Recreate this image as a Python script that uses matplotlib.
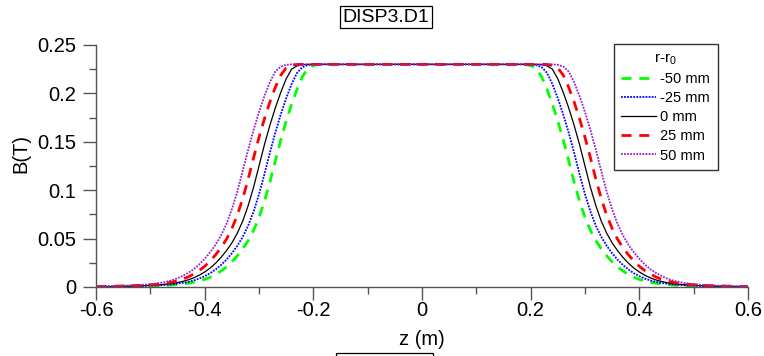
import numpy as np
import matplotlib
matplotlib.use("Agg")
import matplotlib.pyplot as plt
from matplotlib.ticker import MultipleLocator
from matplotlib.patches import Rectangle

plt.rcParams['font.family'] = ['Liberation Sans', 'DejaVu Sans']

# Half profile (z >= 0); the field map is symmetric about z = 0
z_half = [0.00, 0.10, 0.18, 0.19, 0.20, 0.21, 0.22, 0.23, 0.24, 0.25, 0.26, 0.27,
          0.28, 0.29, 0.30, 0.31, 0.32, 0.33, 0.34, 0.35, 0.36, 0.37, 0.38, 0.39,
          0.40, 0.41, 0.42, 0.43, 0.44, 0.45, 0.46, 0.47, 0.48, 0.49, 0.50, 0.52,
          0.54, 0.57, 0.60]

b_m50 = [0.2300, 0.2300, 0.2300, 0.2298, 0.2288, 0.2258, 0.2174, 0.2044, 0.1888, 0.1713,
         0.1518, 0.1303, 0.1083, 0.0886, 0.0718, 0.0585, 0.0479, 0.0394, 0.0322, 0.0259,
         0.0207, 0.0165, 0.0130, 0.0101, 0.0079, 0.0062, 0.0049, 0.0039, 0.0032, 0.0026,
         0.0022, 0.0018, 0.0015, 0.0013, 0.0010, 0.0008, 0.0006, 0.0004, 0.0002]

b_m25 = [0.2300, 0.2300, 0.2300, 0.2300, 0.2299, 0.2293, 0.2272, 0.2212, 0.2097, 0.1949,
         0.1782, 0.1594, 0.1386, 0.1166, 0.0958, 0.0779, 0.0633, 0.0517, 0.0425, 0.0348,
         0.0282, 0.0226, 0.0180, 0.0142, 0.0112, 0.0087, 0.0068, 0.0053, 0.0043, 0.0034,
         0.0028, 0.0023, 0.0019, 0.0016, 0.0014, 0.0010, 0.0007, 0.0005, 0.0002]

b_0 = [0.2300, 0.2300, 0.2300, 0.2300, 0.2300, 0.2300, 0.2298, 0.2285, 0.2250, 0.2150,
       0.2010, 0.1850, 0.1670, 0.1470, 0.1250, 0.1030, 0.0840, 0.0680, 0.0555, 0.0455,
       0.0375, 0.0305, 0.0245, 0.0195, 0.0155, 0.0122, 0.0095, 0.0074, 0.0058, 0.0046,
       0.0037, 0.0030, 0.0025, 0.0021, 0.0017, 0.0012, 0.0008, 0.0005, 0.0003]

b_p25 = [0.2300, 0.2300, 0.2300, 0.2300, 0.2300, 0.2300, 0.2300, 0.2299, 0.2290, 0.2263,
         0.2188, 0.2063, 0.1911, 0.1738, 0.1546, 0.1334, 0.1114, 0.0912, 0.0741, 0.0603,
         0.0493, 0.0405, 0.0332, 0.0268, 0.0214, 0.0170, 0.0135, 0.0105, 0.0082, 0.0064,
         0.0051, 0.0040, 0.0033, 0.0027, 0.0023, 0.0016, 0.0012, 0.0008, 0.0004]

b_p50 = [0.2300, 0.2300, 0.2300, 0.2300, 0.2300, 0.2300, 0.2300, 0.2300, 0.2300, 0.2295,
         0.2277, 0.2226, 0.2116, 0.1972, 0.1807, 0.1622, 0.1417, 0.1197, 0.0984, 0.0802,
         0.0650, 0.0531, 0.0436, 0.0358, 0.0291, 0.0233, 0.0185, 0.0147, 0.0116, 0.0090,
         0.0070, 0.0055, 0.0044, 0.0035, 0.0029, 0.0021, 0.0016, 0.0010, 0.0005]

labels = ["-50 mm", "-25 mm", "0 mm", "25 mm", "50 mm"]
x_ticks = [-0.6, -0.4, -0.2, 0, 0.2, 0.4, 0.6]
x_ticklabels = ["-0.6", "-0.4", "-0.2", "0", "0.2", "0.4", "0.6"]
y_ticks = [0, 0.05, 0.1, 0.15, 0.2, 0.25]
y_ticklabels = ["0", "0.05", "0.1", "0.15", "0.2", "0.25"]


def full(half):
    h = np.asarray(half, dtype=float)
    return np.concatenate([h[::-1], h[1:]])


zh = np.asarray(z_half, dtype=float)
z = np.concatenate([-zh[::-1], zh[1:]])

fig = plt.figure(figsize=(7.64, 3.56), dpi=100)
ax = fig.add_axes([96 / 764, 69 / 356, 652 / 764, 242 / 356])

styles = [
    dict(color='#00ff00', lw=2.0, linestyle=(0, (3.6, 2.8))),
    dict(color='#0000ff', lw=1.3, linestyle=(0, (1, 0.7))),
    dict(color='#000000', lw=0.9, linestyle='-'),
    dict(color='#ff0000', lw=2.0, linestyle=(0, (3.6, 2.8))),
    dict(color='#9a1fd0', lw=1.3, linestyle=(0, (1, 0.7))),
]
for vals, lab, st in zip([b_m50, b_m25, b_0, b_p25, b_p50], labels, styles):
    ax.plot(z, full(vals), label=lab, **st)

ax.set_xlim(-0.6, 0.6)
ax.set_ylim(0, 0.25)
ax.spines['top'].set_visible(False)
ax.spines['right'].set_visible(False)
for s in ['left', 'bottom']:
    ax.spines[s].set_color('#555555')
    ax.spines[s].set_linewidth(1.0)

ax.set_xticks(x_ticks)
ax.set_xticklabels(x_ticklabels)
ax.set_yticks(y_ticks)
ax.set_yticklabels(y_ticklabels)
ax.xaxis.set_minor_locator(MultipleLocator(0.1))
ax.yaxis.set_minor_locator(MultipleLocator(0.025))
ax.tick_params(which='major', direction='out', length=9.4, width=1.0, color='#555555',
               labelsize=14.5)
ax.tick_params(which='minor', direction='out', length=5, width=1.0, color='#555555')
ax.tick_params(axis='y', which='major', pad=5)
ax.tick_params(axis='x', which='major', pad=1)

ax.set_xlabel('z (m)', fontsize=14.5, labelpad=7)
ax.set_ylabel('B(T)', fontsize=14.5)
ax.yaxis.set_label_coords(-0.1, 0.55)

leg = ax.legend(loc='upper left', bbox_to_anchor=(0.794, 1.004), borderaxespad=0,
                fontsize=10.5, title='r-r$_{\\mathregular{0}}$', title_fontsize=11,
                frameon=True, fancybox=False, edgecolor='black', handlelength=2.4,
                handletextpad=0.3, labelspacing=0.35, borderpad=0.5)
leg.get_frame().set_linewidth(1.0)

fig.text(386 / 764, 339 / 356, 'DISP3.D1', fontsize=14, ha='center', va='center',
         bbox=dict(boxstyle='square,pad=0.15', facecolor='white', edgecolor='black', lw=0.9))

fig.patches.append(Rectangle((336 / 764, -0.02), 97 / 764, 3 / 356 + 0.02,
                             transform=fig.transFigure, facecolor='none',
                             edgecolor='black', lw=0.9))

fig.savefig('out.png', dpi=100)
